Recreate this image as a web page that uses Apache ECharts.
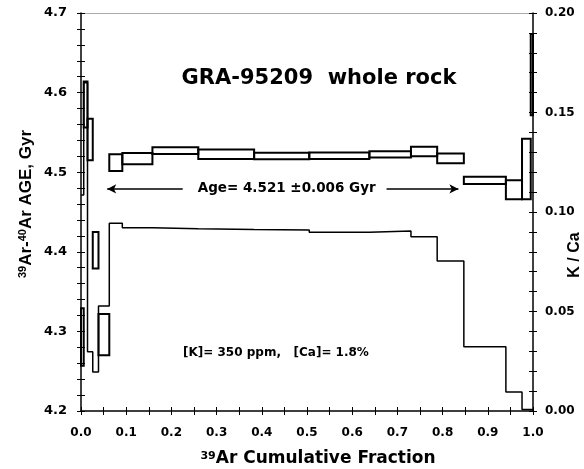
<!DOCTYPE html>
<html>
<head>
<meta charset="utf-8">
<script src="https://cdn.jsdelivr.net/npm/echarts@6/dist/echarts.min.js"></script>
<style>
  html, body { margin: 0; padding: 0; background: #fff; }
  #main { width: 584px; height: 469px; }
</style>
</head>
<body>
<div id="main"></div>
<script>
// step edges (39Ar cumulative fraction)
var stepStart = [0.000, 0.006, 0.0144, 0.026, 0.0387, 0.0626, 0.0914, 0.158, 0.2595, 0.383, 0.505, 0.638, 0.730, 0.788, 0.847, 0.940, 0.9757, 0.995];
var stepEnd   = [0.006, 0.0144, 0.026, 0.0387, 0.0626, 0.0914, 0.158, 0.2595, 0.383, 0.505, 0.638, 0.730, 0.788, 0.847, 0.940, 0.9757, 0.995, 1.000];
// age (Gyr) and error for each step
var ageValues = [4.293, 4.585, 4.541, 4.402, 4.296, 4.512, 4.517, 4.527, 4.5225, 4.5204, 4.5207, 4.5224, 4.526, 4.5174, 4.4897, 4.478, 4.504, 4.6225];
var ageErrors = [0.036, 0.029, 0.026, 0.023, 0.026, 0.0105, 0.007, 0.0042, 0.006, 0.004, 0.004, 0.004, 0.006, 0.006, 0.0045, 0.012, 0.038, 0.051];
// K/Ca step line
var kcaStart  = [0.000, 0.006, 0.0144, 0.026, 0.0387, 0.0626, 0.0914, 0.158, 0.2595, 0.383, 0.505, 0.638, 0.730, 0.788, 0.847, 0.940, 0.9757];
var kcaEnd    = [0.006, 0.0144, 0.026, 0.0387, 0.0626, 0.0914, 0.158, 0.2595, 0.383, 0.505, 0.638, 0.730, 0.788, 0.847, 0.940, 0.9757, 1.000];
var kcaValues = [0.1085, 0.165, 0.0298, 0.0196, 0.0528, 0.0943, 0.0921, 0.0916, 0.0912, 0.091, 0.0898, 0.0905, 0.0876, 0.0754, 0.0323, 0.0095, 0.0008];

var plateauAge = 4.521;

var font = 'Liberation Sans, Arial, sans-serif';
var wide = 'DejaVu Sans, sans-serif';

var boxData = stepStart.map(function (x0, i) {
    return [x0, stepEnd[i], ageValues[i], ageErrors[i]];
});
var kcaLine = [];
kcaStart.forEach(function (x0, i) {
    kcaLine.push([x0, kcaValues[i]]);
    kcaLine.push([kcaEnd[i], kcaValues[i]]);
});

var myChart = echarts.init(document.getElementById('main'));

var tickStyle = { color: '#000', width: 1 };

myChart.setOption({
    animation: false,
    backgroundColor: '#fff',
    grid: { left: 81, right: 51, top: 13, bottom: 58, containLabel: false, outerBoundsMode: 'none' },
    title: {
        text: 'GRA-95209  whole rock',
        left: 314, top: 63, textAlign: 'center',
        textStyle: { fontFamily: wide, fontWeight: 'bold', fontSize: 21, color: '#000' }
    },
    xAxis: [{
        type: 'value', min: 0, max: 1, interval: 0.1, position: 'bottom',
        axisLine: { onZero: false, lineStyle: { color: '#000', width: 1.5 } },
        axisTick: { show: true, inside: false, length: 4, lineStyle: tickStyle },
        minorTick: { show: true, splitNumber: 2, length: 4, lineStyle: tickStyle },
        splitLine: { show: false },
        axisLabel: {
            margin: 16, color: '#000', fontFamily: wide, fontWeight: 'bold', fontSize: 12,
            formatter: function (v) { return v.toFixed(1); }
        }
    }, {
        type: 'value', min: 0, max: 1, position: 'top',
        axisLine: { show: true, onZero: false, lineStyle: { color: '#aaa', width: 1 } },
        axisTick: { show: false }, axisLabel: { show: false }, splitLine: { show: false }
    }, {
        type: 'value', min: 0, max: 1, interval: 0.1, position: 'bottom',
        axisLine: { show: false, onZero: false },
        axisTick: { show: true, inside: true, length: 4, lineStyle: tickStyle },
        minorTick: { show: true, splitNumber: 2, length: 4, lineStyle: tickStyle },
        axisLabel: { show: false }, splitLine: { show: false }
    }],
    yAxis: [{
        type: 'value', min: 4.2, max: 4.7, interval: 0.1, position: 'left',
        axisLine: { show: true, onZero: false, lineStyle: { color: '#000', width: 1.5 } },
        axisTick: { show: true, inside: false, length: 4, lineStyle: tickStyle },
        minorTick: { show: true, splitNumber: 5, length: 4, lineStyle: tickStyle },
        splitLine: { show: false },
        axisLabel: {
            margin: 14, color: '#000', fontFamily: wide, fontWeight: 'bold', fontSize: 13,
            formatter: function (v) { return v.toFixed(1); }
        }
    }, {
        type: 'value', min: 0, max: 0.2, interval: 0.05, position: 'right',
        axisLine: { show: true, onZero: false, lineStyle: { color: '#000', width: 1.5 } },
        axisTick: { show: true, inside: false, length: 4, lineStyle: tickStyle },
        minorTick: { show: true, splitNumber: 5, length: 4, lineStyle: tickStyle },
        splitLine: { show: false },
        axisLabel: {
            margin: 12, color: '#000', fontFamily: wide, fontWeight: 'bold', fontSize: 12,
            formatter: function (v) { return v.toFixed(2); }
        }
    }, {
        type: 'value', min: 4.2, max: 4.7, interval: 0.1, position: 'left',
        axisLine: { show: false, onZero: false },
        axisTick: { show: true, inside: true, length: 4, lineStyle: tickStyle },
        minorTick: { show: true, splitNumber: 5, length: 4, lineStyle: tickStyle },
        axisLabel: { show: false }, splitLine: { show: false }
    }, {
        type: 'value', min: 0, max: 0.2, interval: 0.05, position: 'right',
        axisLine: { show: false, onZero: false },
        axisTick: { show: true, inside: true, length: 4, lineStyle: tickStyle },
        minorTick: { show: true, splitNumber: 5, length: 4, lineStyle: tickStyle },
        axisLabel: { show: false }, splitLine: { show: false }
    }],
    graphic: [{
        type: 'text', left: 183, top: 347,
        style: { text: '[K]= 350 ppm,   [Ca]= 1.8%', font: 'bold 12px ' + wide, fill: '#000' }
    }, {
        type: 'text', x: 318, y: 459,
        style: {
            text: '{sup|39}{b|Ar Cumulative Fraction}',
            align: 'center', verticalAlign: 'middle',
            rich: {
                sup: { fontFamily: wide, fontWeight: 'bold', fontSize: 11, verticalAlign: 'top', fill: '#000' },
                b: { fontFamily: wide, fontWeight: 'bold', fontSize: 17, fill: '#000' }
            }
        }
    }, {
        type: 'text', x: 26, y: 204, rotation: Math.PI / 2,
        style: {
            text: '{sup|39}{b|Ar-}{sup|40}{b|Ar AGE, Gyr}',
            align: 'center', verticalAlign: 'middle',
            rich: {
                sup: { fontFamily: font, fontWeight: 'bold', fontSize: 11, verticalAlign: 'top', fill: '#000' },
                b: { fontFamily: font, fontWeight: 'bold', fontSize: 17, fill: '#000' }
            }
        }
    }, {
        type: 'text', x: 575, y: 255, rotation: Math.PI / 2,
        style: {
            text: 'K / Ca', align: 'center', verticalAlign: 'middle',
            font: 'bold 16px ' + font, fill: '#000'
        }
    }],
    series: [{
        name: 'K/Ca',
        type: 'line',
        xAxisIndex: 0, yAxisIndex: 1,
        data: kcaLine,
        symbol: 'none',
        lineStyle: { color: '#000', width: 1.5 },
        z: 2
    }, {
        name: 'Age',
        type: 'custom',
        xAxisIndex: 0, yAxisIndex: 0,
        data: boxData,
        encode: { x: [0, 1], y: 2 },
        clip: false,
        renderItem: function (params, api) {
            var x0 = api.value(0), x1 = api.value(1), c = api.value(2), e = api.value(3);
            var p0 = api.coord([x0, c + e]);
            var p1 = api.coord([x1, c - e]);
            return {
                type: 'rect',
                shape: { x: p0[0], y: p0[1], width: p1[0] - p0[0], height: p1[1] - p0[1] },
                style: { fill: 'transparent', stroke: '#000', lineWidth: 2 }
            };
        },
        markLine: {
            silent: true,
            symbol: ['arrow', 'none'],
            symbolSize: [7, 9],
            lineStyle: { color: '#000', width: 1.5, type: 'solid' },
            label: { show: false },
            data: [
                [{ coord: [0.058, 4.479] }, { coord: [0.225, 4.479] }],
                [{ coord: [0.835, 4.479] }, { coord: [0.676, 4.479] }]
            ]
        },
        markPoint: {
            silent: true,
            symbol: 'rect', symbolSize: 1,
            itemStyle: { color: 'transparent' },
            label: {
                show: true, position: 'inside',
                fontFamily: wide, fontWeight: 'bold', fontSize: 13.5, color: '#000',
                formatter: 'Age= ' + plateauAge.toFixed(3) + ' \u00b10.006 Gyr'
            },
            data: [{ coord: [0.455, 4.479] }]
        },
        z: 3
    }]
});
</script>
</body>
</html>
